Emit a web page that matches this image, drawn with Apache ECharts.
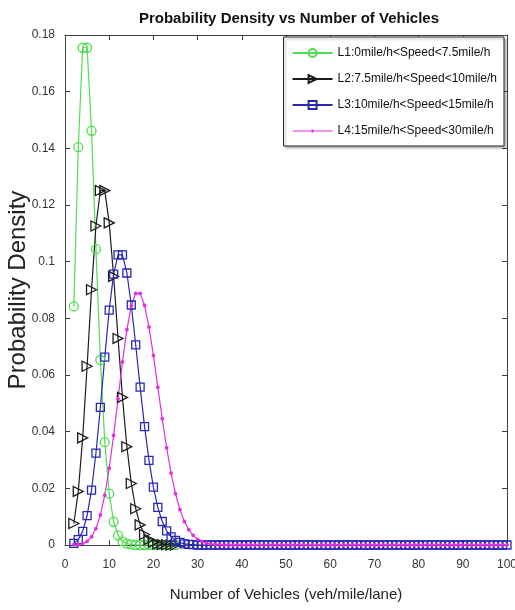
<!DOCTYPE html>
<html>
<head>
<meta charset="utf-8">
<script src="https://cdn.jsdelivr.net/npm/echarts@6/dist/echarts.min.js"></script>
<style>
  html, body { margin: 0; padding: 0; background: #fff; }
  #chart { width: 515px; height: 610px; }
</style>
</head>
<body>
<div id="chart"></div>
<script>
// Vehicle counts (veh/mile/lane) at which each density is sampled
const vehicles = [
  2, 3, 4, 5, 6, 7, 8, 9, 10, 11, 12, 13, 14, 15, 16, 17, 18, 19, 20, 21,
  22, 23, 24, 25, 26, 27, 28, 29, 30, 31, 32, 33, 34, 35, 36, 37, 38, 39, 40, 41,
  42, 43, 44, 45, 46, 47, 48, 49, 50, 51, 52, 53, 54, 55, 56, 57, 58, 59, 60, 61,
  62, 63, 64, 65, 66, 67, 68, 69, 70, 71, 72, 73, 74, 75, 76, 77, 78, 79, 80, 81,
  82, 83, 84, 85, 86, 87, 88, 89, 90, 91, 92, 93, 94, 95, 96, 97, 98, 99, 100
];

// Speed-band labels
const seriesNames = [
  'L1:0mile/h<Speed<7.5mile/h',
  'L2:7.5mile/h<Speed<10mile/h',
  'L3:10mile/h<Speed<15mile/h',
  'L4:15mile/h<Speed<30mile/h'
];

// Probability density for each speed band, one value per vehicle count
// (L1 and L2 are only sampled up to 25 veh/mile/lane)
const densityL1 = [
  0.0842, 0.1404, 0.1755, 0.1755, 0.1462, 0.1044, 0.0653, 0.0363, 0.0181, 0.0082,
  0.0034, 0.0013, 0.0005, 0.0002, 0, 0, 0, 0, 0, 0,
  0, 0, 0, 0
];
const densityL2 = [
  0.0076, 0.0189, 0.0378, 0.0631, 0.0901, 0.1126, 0.1251, 0.1251, 0.1137, 0.0948,
  0.0729, 0.0521, 0.0347, 0.0217, 0.0128, 0.0071, 0.0037, 0.0019, 0.0009, 0.0004,
  0.0002, 0.0001, 0, 0
];
// L3 and L4 run over the full range, 2..100
const densityL3 = [
  0.0006, 0.0019, 0.0048, 0.0104, 0.0194, 0.0324, 0.0486, 0.0663, 0.0829, 0.0956,
  0.1024, 0.1024, 0.0960, 0.0847, 0.0706, 0.0557, 0.0418, 0.0299, 0.0204, 0.0133,
  0.0083, 0.0050, 0.0029, 0.0016, 0.0009, 0.0004, 0.0002, 0.0001, 0, 0,
  0, 0, 0, 0, 0, 0, 0, 0, 0, 0,
  0, 0, 0, 0, 0, 0, 0, 0, 0, 0,
  0, 0, 0, 0, 0, 0, 0, 0, 0, 0,
  0, 0, 0, 0, 0, 0, 0, 0, 0, 0,
  0, 0, 0, 0, 0, 0, 0, 0, 0, 0,
  0, 0, 0, 0, 0, 0, 0, 0, 0, 0,
  0, 0, 0, 0, 0, 0, 0, 0, 0
];
const densityL4 = [
  0.0001, 0.0002, 0.0005, 0.0013, 0.0029, 0.0058, 0.0106, 0.0176, 0.0271, 0.0387,
  0.0516, 0.0646, 0.0760, 0.0844, 0.0888, 0.0888, 0.0846, 0.0769, 0.0669, 0.0557,
  0.0446, 0.0343, 0.0254, 0.0181, 0.0125, 0.0083, 0.0054, 0.0034, 0.0020, 0.0012,
  0.0007, 0.0004, 0.0002, 0.0001, 0, 0, 0, 0, 0, 0,
  0, 0, 0, 0, 0, 0, 0, 0, 0, 0,
  0, 0, 0, 0, 0, 0, 0, 0, 0, 0,
  0, 0, 0, 0, 0, 0, 0, 0, 0, 0,
  0, 0, 0, 0, 0, 0, 0, 0, 0, 0,
  0, 0, 0, 0, 0, 0, 0, 0, 0, 0,
  0, 0, 0, 0, 0, 0, 0, 0, 0
];

// Axis tick values
const xTicks = [0, 10, 20, 30, 40, 50, 60, 70, 80, 90, 100];
const yTicks = [0, 0.02, 0.04, 0.06, 0.08, 0.1, 0.12, 0.14, 0.16, 0.18];

const SANS = '"Liberation Sans", Arial, sans-serif';
const AXIS_COLOR = '#404040';

function pairs(values) {
  return values.map((v, i) => [vehicles[i], v]);
}

const styles = [
  { color: '#4fdc4f', symbol: 'circle', size: 9, rotate: 0, fill: 'rgba(0,0,0,0)' },
  { color: '#1c1c1c', symbol: 'triangle', size: 10, rotate: -90, fill: 'rgba(0,0,0,0)' },
  { color: '#2828b4', symbol: 'rect', size: 8, rotate: 0, fill: 'rgba(0,0,0,0)' },
  { color: '#e22ee2', symbol: 'circle', size: 2.5, rotate: 0, fill: '#e22ee2' }
];
const densities = [densityL1, densityL2, densityL3, densityL4];

const series = densities.map((d, i) => ({
  name: seriesNames[i],
  type: 'line',
  data: pairs(d),
  showSymbol: true,
  showAllSymbol: true,
  symbol: styles[i].symbol,
  symbolSize: styles[i].size,
  symbolRotate: styles[i].rotate,
  animation: false,
  silent: true,
  lineStyle: { color: styles[i].color, width: 1.2 },
  itemStyle: {
    color: styles[i].fill,
    borderColor: styles[i].color,
    borderWidth: 1.3
  }
}));

const axisBase = {
  type: 'value',
  axisLine: { show: true, onZero: false, lineStyle: { color: AXIS_COLOR, width: 1 } },
  axisTick: { show: true, inside: true, length: 5, lineStyle: { color: AXIS_COLOR } },
  splitLine: { show: false }
};

// Legend entries; the dotted series gets a thin line with a small dot
const legendData = seriesNames.map((n, i) => i === 3
  ? {
      name: n,
      icon: 'path://M0,1L40,1L40,2L0,2Z M19,0L21,0L21,3L19,3Z',
      itemStyle: { borderWidth: 0 }
    }
  : { name: n });

const chart = echarts.init(document.getElementById('chart'), null, { renderer: 'canvas' });
chart.setOption({
  backgroundColor: '#fff',
  animation: false,
  title: {
    text: 'Probability Density vs Number of Vehicles',
    left: 284,
    textAlign: 'center',
    top: 6,
    textStyle: { fontFamily: SANS, fontSize: 15, fontWeight: 'bold', color: '#111' }
  },
  grid: { left: 65, right: 8, top: 35, bottom: 65, containLabel: false, outerBoundsMode: 'none' },
  legend: {
    orient: 'vertical',
    right: 11,
    top: 37,
    padding: [8, 7, 7, 8],
    itemGap: 10,
    itemWidth: 40,
    itemHeight: 10,
    backgroundColor: '#fff',
    borderColor: '#222',
    borderWidth: 1,
    shadowColor: 'rgba(0,0,0,0.25)',
    shadowOffsetX: 2,
    shadowOffsetY: 2,
    shadowBlur: 2,
    selectedMode: false,
    textStyle: { fontFamily: SANS, fontSize: 12, lineHeight: 16, color: '#111' },
    data: legendData
  },
  xAxis: [
    Object.assign({}, axisBase, {
      min: xTicks[0], max: xTicks[xTicks.length - 1], interval: xTicks[1] - xTicks[0],
      position: 'bottom',
      name: 'Number of Vehicles (veh/mile/lane)',
      nameLocation: 'middle',
      nameGap: 42,
      nameMoveOverlap: false,
      nameTextStyle: { fontFamily: SANS, fontSize: 15, color: '#222' },
      axisLabel: { fontFamily: SANS, fontSize: 12, color: '#333', margin: 14 }
    }),
    Object.assign({}, axisBase, {
      min: xTicks[0], max: xTicks[xTicks.length - 1], interval: xTicks[1] - xTicks[0],
      position: 'top',
      axisLabel: { show: false }
    })
  ],
  yAxis: [
    Object.assign({}, axisBase, {
      min: yTicks[0], max: yTicks[yTicks.length - 1], interval: yTicks[1] - yTicks[0],
      position: 'left',
      name: 'Probability Density',
      nameLocation: 'middle',
      nameGap: 35,
      nameMoveOverlap: false,
      nameTextStyle: { fontFamily: SANS, fontSize: 24, color: '#222' },
      axisLabel: {
        fontFamily: SANS, fontSize: 12, color: '#333', margin: 10,
        formatter: v => String(Math.round(v * 100) / 100)
      }
    }),
    Object.assign({}, axisBase, {
      min: yTicks[0], max: yTicks[yTicks.length - 1], interval: yTicks[1] - yTicks[0],
      position: 'right',
      axisLabel: { show: false }
    })
  ],
  series: series
});
</script>
</body>
</html>
